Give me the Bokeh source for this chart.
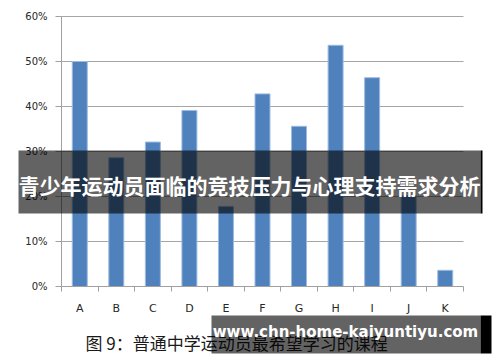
from bokeh.plotting import figure
from bokeh.models import (Range1d, FixedTicker, NumeralTickFormatter, Label,
                          BoxAnnotation, ColumnDataSource)
from bokeh.embed import file_html
from bokeh.resources import INLINE

categories = ["A", "B", "C", "D", "E", "F", "G", "H", "I", "J", "K"]
values = [0.500, 0.286, 0.321, 0.391, 0.178, 0.428, 0.356, 0.536, 0.464, 0.202, 0.036]
y_ticks = [0.0, 0.1, 0.2, 0.3, 0.4, 0.5, 0.6]

title_text = "青少年运动员面临的竞技压力与心理支持需求分析"
caption_text = "图 9：普通中学运动员最希望学习的课程"
watermark_text = "www.chn-home-kaiyuntiyu.com"

W, H = 500, 362
# plot-area pixel box inside the canvas (from top-left)
PL, PR, PT, PB = 61, 463, 16, 286
n = len(categories)
ymax = 0.6
xpx = (PR - PL) / n
ypx = (PB - PT) / ymax

xs = [i + 0.5 for i in range(n)]
src = ColumnDataSource(dict(x=xs, top=values, cat=categories))

p = figure(width=W, height=H, output_backend="svg", toolbar_location=None,
           x_range=Range1d(-PL / xpx, n + (W - PR) / xpx),
           y_range=Range1d(-(H - PB) / ypx, ymax + PT / ypx),
           min_border=0, outline_line_color=None,
           background_fill_color="white", border_fill_color="white")

p.vbar(x="x", top="top", width=0.41, bottom=0, source=src,
       fill_color="#4f81bd", line_color="#9dbbe0", line_width=1)

# x axis
xa = p.xaxis[0]
xa.fixed_location = 0
xa.bounds = (0, n)
xa.ticker = FixedTicker(ticks=xs, minor_ticks=list(range(n + 1)))
xa.major_label_overrides = {x: c for x, c in zip(xs, categories)}
xa.major_tick_line_color = None
xa.major_tick_out = 0
xa.major_tick_in = 0
xa.minor_tick_out = 5
xa.minor_tick_in = 0
xa.minor_tick_line_color = "#a0a0a0"
xa.axis_line_color = "#a0a0a0"
xa.major_label_text_font = "DejaVu Sans"
xa.major_label_text_font_size = "11px"
xa.major_label_text_color = "#262626"
xa.major_label_standoff = 10

# y axis
ya = p.yaxis[0]
ya.fixed_location = 0
ya.bounds = (0, ymax)
ya.ticker = FixedTicker(ticks=y_ticks)
ya.formatter = NumeralTickFormatter(format="0%")
ya.axis_line_color = "#a0a0a0"
ya.major_tick_line_color = "#a0a0a0"
ya.major_tick_out = 6
ya.major_tick_in = 0
ya.minor_tick_line_color = None
ya.major_label_text_font = "DejaVu Sans"
ya.major_label_text_font_size = "10px"
ya.major_label_text_color = "#262626"
ya.major_label_standoff = 8

p.xgrid.grid_line_color = None
p.ygrid.ticker = FixedTicker(ticks=y_ticks[1:])
p.ygrid.cross_bounds = (0, n)
p.ygrid.grid_line_color = "#a6a6a6"
p.ygrid.grid_line_width = 1


def box(x0, x1, y0, y1, color, alpha):
    return BoxAnnotation(left=x0, right=x1, top=H - y0, bottom=H - y1,
                         left_units="screen", right_units="screen",
                         top_units="screen", bottom_units="screen",
                         fill_color=color, fill_alpha=alpha, line_color=None,
                         level="overlay")


# caption (under watermark)
cap = Label(x=85, y=H - 342, x_units="screen", y_units="screen",
            text=caption_text, text_font="Noto Sans CJK SC", text_font_size="17px",
            text_color="#1a1a1a", text_baseline="middle", text_align="left",
            level="overlay")
p.add_layout(cap)

# banner
p.add_layout(box(18, 480, 150, 213, "black", 0.61))
p.add_layout(box(480, 482, 150, 213, "black", 1.0))
ban = Label(x=249, y=H - 184, x_units="screen", y_units="screen",
            text=title_text, text_font="Noto Sans CJK SC", text_font_size="21px",
            text_font_style="bold", text_color="white", text_baseline="middle",
            text_align="center", level="overlay")
p.add_layout(ban)

# watermark
p.add_layout(box(211, 480, 315, 353, "black", 0.61))
p.add_layout(box(480, 491, 315, 353, "black", 1.0))
wm = Label(x=345, y=H - 331, x_units="screen", y_units="screen",
           text=watermark_text, text_font="DejaVu Sans", text_font_size="15px",
           text_font_style="bold", text_color="white", text_baseline="middle",
           text_align="center", level="overlay")
p.add_layout(wm)

open("out.html", "w").write(file_html(p, INLINE))
